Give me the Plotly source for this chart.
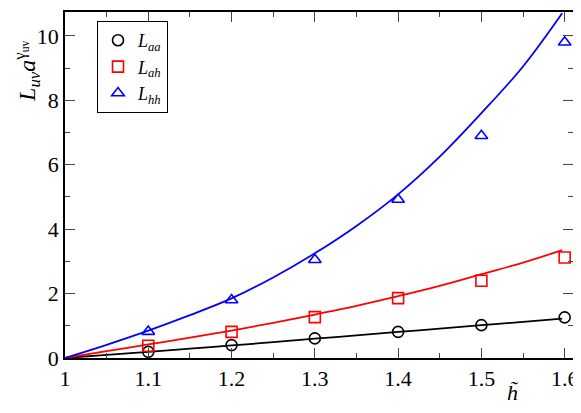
import plotly.graph_objects as go

# 資料點
h_pts = [1.1, 1.2, 1.3, 1.4, 1.5, 1.6]
L_aa = [0.19, 0.40, 0.61, 0.81, 1.02, 1.26]
L_ah = [0.38, 0.81, 1.27, 1.86, 2.40, 3.12]
L_hh = [0.82, 1.80, 3.05, 4.92, 6.90, 9.80]

# 擬合曲線
h_fit = [1.0, 1.05, 1.1, 1.15, 1.2, 1.25, 1.3, 1.35, 1.4, 1.45, 1.5, 1.55, 1.597]
fit_aa = [0.0, 0.095, 0.19, 0.29, 0.39, 0.49, 0.60, 0.70, 0.81, 0.91, 1.02, 1.12, 1.22]
fit_ah = [0.0, 0.21, 0.42, 0.63, 0.85, 1.09, 1.35, 1.62, 1.92, 2.24, 2.60, 2.96, 3.35]
fit_hh = [0.0, 0.41, 0.85, 1.33, 1.85, 2.50, 3.25, 4.10, 5.08, 6.25, 7.60, 9.05, 10.7]

x_ticks = [1, 1.1, 1.2, 1.3, 1.4, 1.5, 1.6]
x_labels = ['1', '1.1', '1.2', '1.3', '1.4', '1.5', '1.6']
y_ticks = [0, 2, 4, 6, 8, 10]

series = [
    ('<i>L<sub>aa</sub></i>', L_aa, fit_aa, 'black', 'circle-open'),
    ('<i>L<sub>ah</sub></i>', L_ah, fit_ah, 'red', 'square-open'),
    ('<i>L<sub>hh</sub></i>', L_hh, fit_hh, 'blue', 'triangle-up-open'),
]

SERIF = 'Liberation Serif, Times New Roman, serif'

fig = go.Figure()

# 曲線
for name, pts, fit, color, sym in series:
    fig.add_trace(go.Scatter(
        x=h_fit, y=fit, mode='lines', line=dict(color=color, width=1.8, shape='spline'),
        showlegend=False, hoverinfo='skip'
    ))

# 資料點
for name, pts, fit, color, sym in series:
    fig.add_trace(go.Scatter(
        x=h_pts, y=pts, mode='markers', name=name,
        marker=dict(symbol=sym, size=11, color=color, line=dict(color=color, width=1.6))
    ))

axis_common = dict(
    showline=True, linecolor='black', linewidth=1.5, mirror='allticks',
    ticks='inside', ticklen=10, tickwidth=1.2, tickcolor='#444',
    showgrid=False, zeroline=False,
    tickfont=dict(family=SERIF, size=22, color='black'),
)

# 頁面 body 有 8px 外距，圖縮小避免出現捲軸
fig.update_layout(
    width=573, height=397,
    margin=dict(l=57, r=8, t=2, b=47),
    font=dict(family=SERIF, size=20, color='black'),
    plot_bgcolor='white', paper_bgcolor='white',
    xaxis=dict(range=[1, 1.61], tickvals=x_ticks, ticktext=x_labels,
               minor=dict(dtick=0.05, tick0=1, ticks='inside', ticklen=5, tickcolor='#444', tickwidth=1.2),
               **axis_common),
    yaxis=dict(range=[0, 10.74], tickvals=y_ticks,
               minor=dict(dtick=1, tick0=0, ticks='inside', ticklen=5, tickcolor='#444', tickwidth=1.2),
               **axis_common),
    legend=dict(x=0.063, y=0.974, xanchor='left', yanchor='top',
                bordercolor='black', borderwidth=1, bgcolor='white',
                font=dict(family=SERIF, size=18, color='black'),
                itemwidth=30, tracegroupgap=0),
    showlegend=True,
)

# y 軸標題 (靠上)
fig.add_annotation(text='<i>L<sub>uv</sub>a</i><sup>γ<sub>uv</sub></sup>',
                   x=-0.11, y=0.83, xref='paper', yref='paper', textangle=-90,
                   xanchor='left', yanchor='middle', borderpad=0,
                   showarrow=False, font=dict(family=SERIF, size=24, color='black'))

# x 軸標題 (靠右)
fig.add_annotation(text='<i>h̃</i>', x=1.537, y=0, xref='x', yref='paper',
                   xanchor='center', yanchor='middle', yshift=-34, showarrow=False,
                   font=dict(family=SERIF, size=22, color='black'))

fig.write_html("out.html")
